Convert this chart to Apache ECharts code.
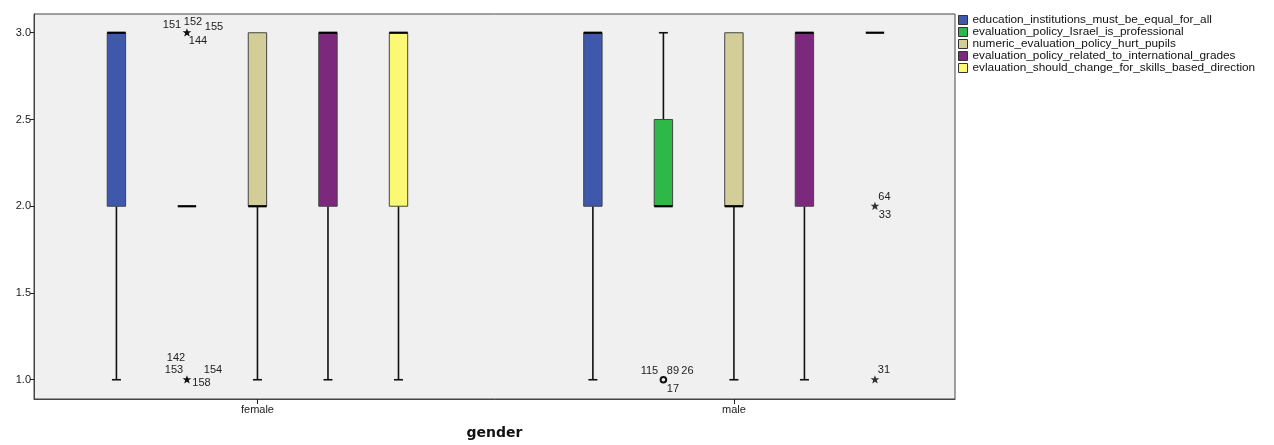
<!DOCTYPE html>
<html>
<head>
<meta charset="utf-8">
<script src="https://cdn.jsdelivr.net/npm/echarts@6/dist/echarts.min.js"></script>
<style>
  html, body { margin: 0; padding: 0; background: #fff; }
  #chart { width: 1274px; height: 445px; }
</style>
</head>
<body>
<div id="chart"></div>
<script>
// Groups on the horizontal axis
const groups = ['female', 'male'];

// Survey items, one box per item within each group
const variables = [
  'education_institutions_must_be_equal_for_all',
  'evaluation_policy_Israel_is_professional',
  'numeric_evaluation_policy_hurt_pupils',
  'evaluation_policy_related_to_international_grades',
  'evlauation_should_change_for_skills_based_direction'
];

const variableColors = ['#3e58ac', '#2eb848', '#d3ce97', '#7c287d', '#fbf873'];

// Five-number summaries [min, q1, median, q3, max] per item
const femaleStats = [
  [1, 2, 3, 3, 3],
  [2, 2, 2, 2, 2],
  [1, 2, 2, 3, 3],
  [1, 2, 3, 3, 3],
  [1, 2, 3, 3, 3]
];
const maleStats = [
  [1, 2, 3, 3, 3],
  [2, 2, 2, 2.5, 3],
  [1, 2, 2, 3, 3],
  [1, 2, 3, 3, 3],
  [3, 3, 3, 3, 3]
];

// Cases outside the whiskers: group index, item index, value, marker kind, case ids
const outlierGroup = [0, 0, 1, 1, 1];
const outlierItem = [1, 1, 1, 4, 4];
const outlierValue = [3, 1, 1, 2, 1];
const outlierKind = ['extreme', 'extreme', 'outlier', 'extreme', 'extreme'];
const outlierIds = [
  ['151', '152', '155', '144'],
  ['142', '153', '154', '158'],
  ['115', '89', '26', '17'],
  ['64', '33'],
  ['31']
];

const yTicks = [1.0, 1.5, 2.0, 2.5, 3.0];

// Layout constants: slot spacing and box width in x-axis units
const SLOT = 0.148;
const BOX_W = 0.0386;
const CAP_PX = 9;

// Pixel offsets of case-id labels around their marker
const idLabelOffsets = [
  [[-15, -8], [6, -10.5], [27, -5.5], [11, 8]],
  [[-11, -21.5], [-13, -9.5], [26, -10], [14.5, 3]],
  [[-14, -8.5], [9.5, -8.5], [24, -9], [9.5, 9]],
  [[9.5, -9.7], [10, 8.3]],
  [[9, -9.3]]
];

const FONT = '"Liberation Sans", Arial, sans-serif';

function boxRenderer(itemIdx) {
  return function (params, api) {
    const g = api.value(0);
    const mn = api.value(1), q1 = api.value(2), md = api.value(3), q3 = api.value(4), mx = api.value(5);
    const xc = g + (itemIdx - 2) * SLOT;
    const x = api.coord([xc, md])[0];
    const yMin = api.coord([xc, mn])[1];
    const yQ1 = api.coord([xc, q1])[1];
    const yMd = api.coord([xc, md])[1];
    const yQ3 = api.coord([xc, q3])[1];
    const yMax = api.coord([xc, mx])[1];
    const half = api.size([BOX_W, 0])[0] / 2;
    const children = [];
    const whisker = { stroke: '#111', lineWidth: 1.6 };
    if (mn < q1) {
      children.push({ type: 'line', shape: { x1: x, y1: yQ1, x2: x, y2: yMin }, style: whisker });
      children.push({ type: 'line', shape: { x1: x - CAP_PX / 2, y1: yMin, x2: x + CAP_PX / 2, y2: yMin }, style: whisker });
    }
    if (mx > q3) {
      children.push({ type: 'line', shape: { x1: x, y1: yQ3, x2: x, y2: yMax }, style: whisker });
      children.push({ type: 'line', shape: { x1: x - CAP_PX / 2, y1: yMax, x2: x + CAP_PX / 2, y2: yMax }, style: whisker });
    }
    if (q3 > q1) {
      children.push({
        type: 'rect',
        shape: { x: x - half, y: yQ3, width: half * 2, height: yQ1 - yQ3 },
        style: { fill: variableColors[itemIdx], stroke: '#444', lineWidth: 1 }
      });
    }
    children.push({
      type: 'line',
      shape: { x1: x - half, y1: yMd, x2: x + half, y2: yMd },
      style: { stroke: '#000', lineWidth: 2.2 }
    });
    return { type: 'group', children: children };
  };
}

function starPoints(cx, cy, rOuter, rInner) {
  const pts = [];
  for (let k = 0; k < 10; k++) {
    const r = k % 2 === 0 ? rOuter : rInner;
    const a = -Math.PI / 2 + k * Math.PI / 5;
    pts.push([cx + r * Math.cos(a), cy + r * Math.sin(a)]);
  }
  return pts;
}

function outlierRenderer(params, api) {
  const i = params.dataIndex;
  const g = api.value(0);
  const item = api.value(1);
  const v = api.value(2);
  const p = api.coord([g + (item - 2) * SLOT, v]);
  const children = [];
  if (outlierKind[i] === 'extreme') {
    children.push({
      type: 'polygon',
      shape: { points: starPoints(p[0], p[1], 4.6, 1.9) },
      style: { fill: g === 1 ? '#111' : '#333' }
    });
  } else {
    children.push({
      type: 'circle',
      shape: { cx: p[0], cy: p[1], r: 2.8 },
      style: { fill: 'none', stroke: '#111', lineWidth: 2 }
    });
  }
  outlierIds[i].forEach(function (id, k) {
    const off = idLabelOffsets[i][k];
    children.push({
      type: 'text',
      style: {
        x: p[0] + off[0], y: p[1] + off[1], text: id,
        fill: '#222', font: '11px ' + FONT, align: 'center', verticalAlign: 'middle'
      }
    });
  });
  return { type: 'group', children: children };
}

const series = variables.map(function (name, idx) {
  return {
    name: name,
    type: 'custom',
    renderItem: boxRenderer(idx),
    itemStyle: { color: variableColors[idx] },
    encode: { x: 0, y: [1, 2, 3, 4, 5] },
    data: [
      [1].concat(femaleStats[idx]),
      [2].concat(maleStats[idx])
    ],
    silent: true
  };
});

series.push({
  name: 'cases',
  type: 'custom',
  renderItem: outlierRenderer,
  encode: { x: 0, y: 2 },
  data: outlierValue.map(function (v, i) {
    return [outlierGroup[i] + 1, outlierItem[i], v];
  }),
  silent: true,
  z: 5
});

const chart = echarts.init(document.getElementById('chart'));
chart.setOption({
  animation: false,
  backgroundColor: '#ffffff',
  grid: {
    left: 34, right: 319, top: 14, bottom: 41.5,
    show: true, backgroundColor: '#f0f0f0', borderColor: '#444', borderWidth: 1
  },
  legend: {
    data: variables,
    orient: 'vertical',
    left: 958, top: 14,
    icon: 'rect',
    itemWidth: 9, itemHeight: 9, itemGap: 0,
    padding: 0,
    itemStyle: { borderColor: '#333', borderWidth: 1 },
    textStyle: { fontSize: 11.8, fontFamily: FONT, color: '#111', lineHeight: 11.5 },
    selectedMode: false
  },
  xAxis: {
    type: 'value',
    min: 0.531, max: 2.464,
    axisLine: { show: true, lineStyle: { color: '#444', width: 1 } },
    splitLine: { show: false },
    axisTick: { show: true, customValues: [1, 2], length: 5, lineStyle: { color: '#222' } },
    axisLabel: {
      customValues: [1, 2],
      formatter: function (v) { return groups[Math.round(v) - 1]; },
      fontSize: 11, fontFamily: FONT, color: '#222', margin: 5
    },
    name: 'gender',
    nameLocation: 'middle',
    nameGap: 27,
    nameTextStyle: { fontSize: 14, fontWeight: 'bold', fontFamily: '"DejaVu Sans", sans-serif', color: '#111' }
  },
  yAxis: {
    type: 'value',
    min: 0.889, max: 3.108,
    axisLine: { show: true, lineStyle: { color: '#444', width: 1 } },
    splitLine: { show: false },
    axisTick: { show: true, customValues: yTicks, length: 4, lineStyle: { color: '#222' } },
    axisLabel: {
      customValues: yTicks,
      formatter: function (v) { return v.toFixed(1); },
      fontSize: 11, fontFamily: FONT, color: '#222', margin: 3
    }
  },
  series: series
});
</script>
</body>
</html>
